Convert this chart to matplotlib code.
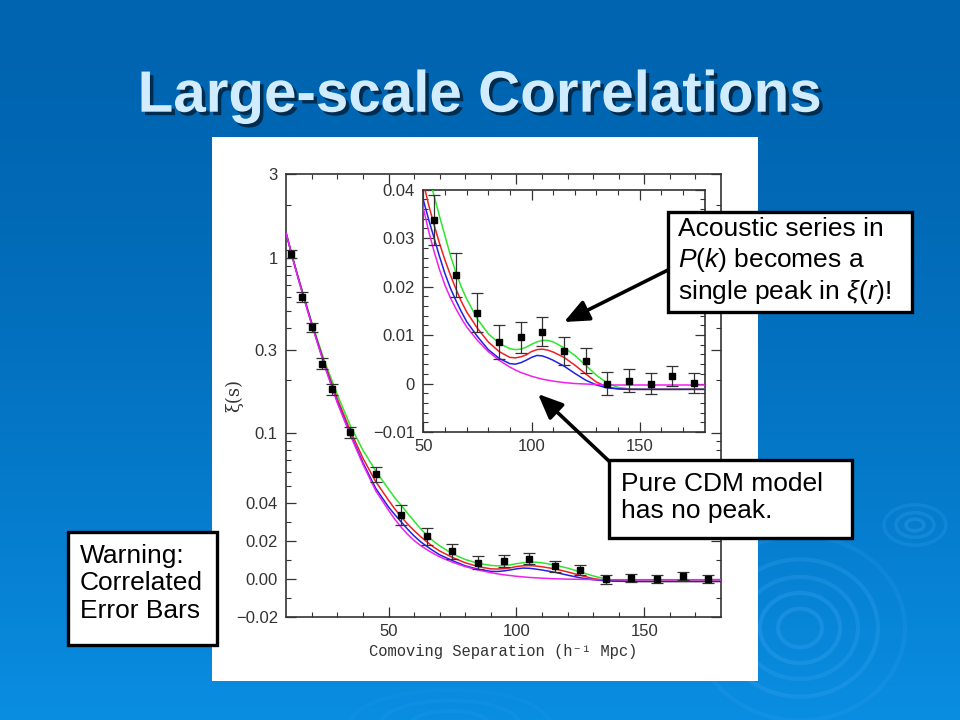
import numpy as np
import matplotlib
matplotlib.use('Agg')
import matplotlib.pyplot as plt
from matplotlib.patches import Rectangle, Ellipse, FancyArrowPatch
from matplotlib.ticker import FixedLocator, FixedFormatter
import matplotlib.patheffects as pe

plt.rcParams['font.family'] = ['Liberation Sans', 'DejaVu Sans']
plt.rcParams['mathtext.fontset'] = 'custom'
plt.rcParams['mathtext.rm'] = 'Liberation Sans'
plt.rcParams['mathtext.it'] = 'Liberation Sans:italic'
plt.rcParams['mathtext.bf'] = 'Liberation Sans:bold'

# ---------------- data ----------------
sep = [12, 16, 20, 24, 28, 35, 45, 55, 65, 75, 85, 95, 105, 115, 125, 135, 145, 155, 165, 175]
xi_obs = [1.053, 0.598, 0.404, 0.249, 0.178, 0.1013, 0.0585, 0.0337, 0.0224, 0.0146,
          0.0086, 0.0096, 0.0107, 0.0068, 0.0047, 0.0000, 0.0006, 0.0000, 0.0015, 0.0001]
xi_err = [0.058, 0.040, 0.024, 0.018, 0.013, 0.0075, 0.006, 0.0052, 0.0046, 0.0040,
          0.0035, 0.0032, 0.0030, 0.0029, 0.0026, 0.0024, 0.0023, 0.0022, 0.0021, 0.0020]

model_sep = [10, 12.5, 15, 17.5, 20, 25, 30, 35, 40, 45, 50, 52.5, 55, 57.5, 60, 62.5, 65,
             67.5, 70, 75, 80, 85, 90, 92.5, 95, 97.5, 100, 102.5, 105, 107.5, 110, 115,
             120, 125, 130, 135, 140, 145, 150, 160, 170, 180]
model_green = [1.38, 1.01, 0.75, 0.565, 0.43, 0.257, 0.166, 0.111, 0.080, 0.061,
               0.048, 0.0428, 0.0387, 0.0345, 0.0305, 0.0265, 0.0230, 0.0200, 0.0175, 0.0133,
               0.0103, 0.0083, 0.0072, 0.0070, 0.0071, 0.0075, 0.0081, 0.0086, 0.0089, 0.0089,
               0.0086, 0.0074, 0.0058, 0.0038, 0.0017, 0.0001, -0.0008, -0.0011, -0.0012,
               -0.0012, -0.0012, -0.0011]
model_red = [1.38, 1.0, 0.745, 0.56, 0.42, 0.25, 0.157, 0.104, 0.072, 0.053,
             0.0415, 0.0368, 0.0327, 0.0289, 0.0255, 0.0224, 0.0196, 0.0170, 0.0148, 0.0114,
             0.0086, 0.0066, 0.0054, 0.0053, 0.0055, 0.0059, 0.0066, 0.0070, 0.0071, 0.0069,
             0.0065, 0.0054, 0.0038, 0.0020, 0.0003, -0.0007, -0.0011, -0.0012, -0.0012,
             -0.0012, -0.0012, -0.0012]
model_blue = [1.38, 1.0, 0.74, 0.555, 0.42, 0.245, 0.151, 0.0995, 0.068, 0.0485,
              0.0379, 0.0338, 0.0300, 0.0262, 0.0227, 0.0197, 0.0172, 0.0149, 0.0128, 0.0097,
              0.0070, 0.0052, 0.0041, 0.0040, 0.0043, 0.0048, 0.0054, 0.0058, 0.0057, 0.0053,
              0.0048, 0.0036, 0.0021, 0.0007, -0.0003, -0.0009, -0.0011, -0.0012, -0.0012,
              -0.0012, -0.0012, -0.0012]
model_magenta = [1.38, 1.0, 0.735, 0.55, 0.415, 0.242, 0.149, 0.098, 0.0665, 0.047,
                 0.0362, 0.0314, 0.0272, 0.0235, 0.0203, 0.0177, 0.0155, 0.0135, 0.0117, 0.0089,
                 0.0066, 0.0048, 0.0034, 0.0028, 0.0023, 0.0019, 0.0015, 0.0012, 0.0009, 0.0007,
                 0.0005, 0.0002, 0.0000, -0.0001, -0.0002, -0.0003, -0.0003, -0.0003, -0.0003,
                 -0.0003, -0.0003, -0.0003]

main_yticks = [3, 1, 0.3, 0.1, 0.04, 0.02, 0.0, -0.02]
main_yticklabels = ['3', '1', '0.3', '0.1', '0.04', '0.02', '0.00', '\u22120.02']
main_yminor = [2, 0.9, 0.8, 0.7, 0.6, 0.5, 0.4, 0.2, 0.09, 0.08, 0.07, 0.06, 0.05, 0.03, 0.01, -0.01]
xticks = [50, 100, 150]
xticklabels = ['50', '100', '150']
inset_yticks = [0.04, 0.03, 0.02, 0.01, 0.0, -0.01]
inset_yticklabels = ['0.04', '0.03', '0.02', '0.01', '0', '\u22120.01']

title = 'Large-scale Correlations'
box1_text = 'Acoustic series in\n$P$($k$) becomes a\nsingle peak in $\\xi$($r$)!'
box2_text = 'Pure CDM model\nhas no peak.'
box3_text = 'Warning:\nCorrelated\nError Bars'

# ---------------- scale ----------------
T = 0.04


def fwd(y):
    y = np.asarray(y, dtype=float)
    return np.where(y <= T, y / T, 1.0 + np.log(np.maximum(y, T) / T))


def inv(f):
    f = np.asarray(f, dtype=float)
    return np.where(f <= 1.0, f * T, T * np.exp(np.minimum(f, 50) - 1.0))


W, H = 960, 720
fig = plt.figure(figsize=(9.6, 7.2), dpi=100)

# ---------------- background ----------------
bg = fig.add_axes([0, 0, 1, 1], zorder=-10)
bg.set_xlim(0, W)
bg.set_ylim(H, 0)
bg.axis('off')
t = np.linspace(0, 1, 256)[:, None]
wgt = t ** 1.6
top = np.array([0x00, 0x64, 0xb0]) / 255.0
bot = np.array([0x0a, 0x8e, 0xe2]) / 255.0
img = top[None, None, :] + (bot - top)[None, None, :] * wgt[:, :, None]
img = np.repeat(img, 2, axis=1)
bg.imshow(img, extent=[0, W, H, 0], aspect='auto', zorder=0)

ring_col = '#3ea6f2'
for r, a in [(22, 0.3), (40, 0.3), (58, 0.26), (78, 0.26), (105, 0.16)]:
    bg.add_patch(Ellipse((800, 628), 2 * r, 2 * r * 0.88, fill=False, ec=ring_col,
                         lw=3.0, alpha=a, zorder=1))
for r, a in [(9, 0.3), (19, 0.26), (31, 0.22)]:
    bg.add_patch(Ellipse((915, 525), 2 * r, 2 * r * 0.65, fill=False, ec=ring_col,
                         lw=2.5, alpha=a, zorder=1))
for r, a in [(40, 0.15), (70, 0.12), (100, 0.1)]:
    bg.add_patch(Ellipse((450, 725), 2 * r, 2 * r * 0.35, fill=False, ec=ring_col,
                         lw=2.5, alpha=a, zorder=1))

bg.add_patch(Rectangle((212, 137), 546, 544, fc='white', ec='none', zorder=5))

# ---------------- title ----------------
fig.text(0.5, 1 - 111.7 / H, title, ha='center', va='baseline', fontsize=42,
         fontweight='bold', color='#d2ecff', family=['Liberation Sans', 'DejaVu Sans'],
         path_effects=[pe.withSimplePatchShadow(offset=(2.5, -2.5), shadow_rgbFace='#00223f',
                                                alpha=0.85)])

line_cols = {'green': '#2ee62e', 'red': '#f02020', 'blue': '#2020e0', 'magenta': '#f020f0'}
models = [(model_green, 'green'), (model_red, 'red'), (model_blue, 'blue'), (model_magenta, 'magenta')]
tick_col = '#333333'


def style_axes(ax):
    for s in ax.spines.values():
        s.set_linewidth(1.2)
        s.set_color(tick_col)
    ax.tick_params(which='both', direction='in', top=True, right=True, colors=tick_col,
                   labelcolor='#333333', labelsize=12)
    ax.tick_params(which='major', length=7.5, width=0.9)
    ax.tick_params(which='minor', length=3.8, width=0.8)
    ax.tick_params(axis='y', pad=6)
    ax.tick_params(axis='x', pad=5)


# ---------------- main axes ----------------
ax = fig.add_axes([286.2 / W, 1 - 617.2 / H, 434.8 / W, 442.9 / H], zorder=1)
ax.set_facecolor('white')
ax.set_yscale('function', functions=(fwd, inv))
ax.set_xlim(10, 180)
ax.set_ylim(-0.02, 3)
for vals, c in models:
    ax.plot(model_sep, vals, color=line_cols[c], lw=1.1, zorder=3)
ax.errorbar(sep, xi_obs, yerr=xi_err, fmt='s', ms=4, color='black', ecolor='#333333',
            elinewidth=0.9, capsize=4.5, capthick=0.9, zorder=5)
ax.xaxis.set_major_locator(FixedLocator(xticks))
ax.xaxis.set_major_formatter(FixedFormatter(xticklabels))
ax.xaxis.set_minor_locator(FixedLocator([v for v in range(20, 180, 10) if v not in xticks]))
ax.yaxis.set_major_locator(FixedLocator(main_yticks))
ax.yaxis.set_major_formatter(FixedFormatter(main_yticklabels))
ax.yaxis.set_minor_locator(FixedLocator(main_yminor))
style_axes(ax)
ax.set_xlabel('Comoving Separation (h\u207b\u00b9 Mpc)', fontsize=11.2, color='#333333',
              family=['Liberation Mono', 'DejaVu Sans Mono'])
ax.xaxis.set_label_coords(0.5, -0.078)
ax.xaxis.label.set_va('center')
ax.set_ylabel('\u03be(s)', fontsize=13, color='#333333', family=['DejaVu Serif'])
ax.yaxis.set_label_coords(-0.1207, 0.5)
ax.yaxis.label.set_va('center')

# ---------------- inset ----------------
axin = fig.add_axes([423.3 / W, 1 - 432 / H, 281.4 / W, 242.3 / H], zorder=2)
axin.set_facecolor('white')
axin.set_xlim(50, 180)
axin.set_ylim(-0.01, 0.04)
for vals, c in models:
    axin.plot(model_sep, vals, color=line_cols[c], lw=1.1, zorder=3)
axin.errorbar(sep, xi_obs, yerr=xi_err, fmt='s', ms=4, color='black', ecolor='#333333',
              elinewidth=0.9, capsize=4.5, capthick=0.9, zorder=5)
axin.xaxis.set_major_locator(FixedLocator(xticks))
axin.xaxis.set_major_formatter(FixedFormatter(xticklabels))
axin.xaxis.set_minor_locator(FixedLocator([v for v in range(60, 180, 10) if v not in xticks]))
axin.yaxis.set_major_locator(FixedLocator(inset_yticks))
axin.yaxis.set_major_formatter(FixedFormatter(inset_yticklabels))
axin.yaxis.set_minor_locator(FixedLocator([round(-0.01 + 0.002 * i, 4) for i in range(26)]))
style_axes(axin)

# ---------------- annotation boxes ----------------
def add_box(x0, y0, x1, y1, text, tx, ty):
    fig.add_artist(Rectangle((x0 / W, 1 - y1 / H), (x1 - x0) / W, (y1 - y0) / H,
                             transform=fig.transFigure, fc='white', ec='black', lw=2.4,
                             zorder=20))
    fig.text(tx / W, 1 - ty / H, text, ha='left', va='center', fontsize=19, color='black',
             linespacing=1.2, zorder=21)


arr_kw = dict(transform=fig.transFigure, arrowstyle='-|>,head_length=0.6,head_width=0.26',
              mutation_scale=25, lw=2.6, color='black', shrinkA=0, shrinkB=0, zorder=15)
fig.add_artist(FancyArrowPatch((668 / W, 1 - 270 / H), (564 / W, 1 - 322 / H), **arr_kw))
fig.add_artist(FancyArrowPatch((611 / W, 1 - 463 / H), (538 / W, 1 - 394 / H), **arr_kw))

add_box(667.7, 211.7, 911.7, 311.7, box1_text, 677.7, 261.7)
add_box(609.3, 460.0, 852.3, 538.3, box2_text, 620.7, 497.5)
add_box(68.3, 531.7, 217.3, 645.0, box3_text, 80.0, 583.3)

fig.savefig('out.png', dpi=100)
